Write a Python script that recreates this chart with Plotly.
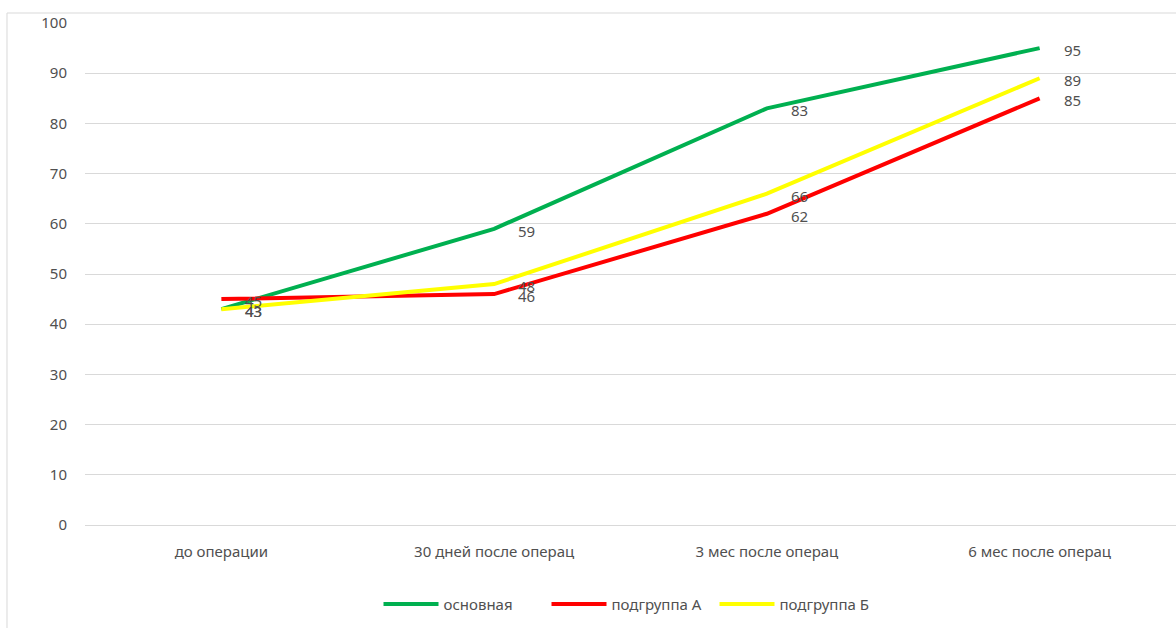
import plotly.graph_objects as go

categories = ["до операции", "30 дней после операц", "3 мес после операц", "6 мес после операц"]
series_names = ["основная", "подгруппа А", "подгруппа Б"]
osnovnaya = [43, 59, 83, 95]
podgruppa_a = [45, 46, 62, 85]
podgruppa_b = [43, 48, 66, 89]
y_ticks = [0, 10, 20, 30, 40, 50, 60, 70, 80, 90, 100]

colors = ["#00B050", "#FF0000", "#FFFF00"]
all_values = [osnovnaya, podgruppa_a, podgruppa_b]

FONT = "Noto Sans, Liberation Sans, Arial, sans-serif"
TXT = "#505050"
GRID = "#d9d9d9"
FS = 15

fig = go.Figure()
for name, vals, col in zip(series_names, all_values, colors):
    fig.add_trace(go.Scatter(
        x=list(range(len(categories))), y=vals, name=name, mode="lines",
        line=dict(color=col, width=4), hoverinfo="skip",
    ))

annotations = []
for vals in all_values:
    for i, v in enumerate(vals):
        annotations.append(dict(
            x=i, y=v, xref="x", yref="y", text=str(v), showarrow=False,
            xanchor="left", yanchor="middle", xshift=22, yshift=-2,
            font=dict(family=FONT, size=FS, color=TXT),
        ))

fig.update_layout(
    width=1176, height=628,
    margin=dict(l=85, r=0, t=23, b=103),
    paper_bgcolor="white", plot_bgcolor="white",
    font=dict(family=FONT, size=FS, color=TXT),
    showlegend=True,
    legend=dict(orientation="h", x=0.5, xanchor="center", y=-0.125, yanchor="top",
                font=dict(family=FONT, size=FS, color=TXT), itemwidth=55,
                entrywidth=98, traceorder="normal"),
    xaxis=dict(
        tickmode="array", tickvals=list(range(len(categories))), ticktext=categories,
        range=[-0.5, len(categories) - 0.5], showgrid=False, zeroline=False,
        showline=True, linecolor=GRID, linewidth=1, ticks="", ticklabelstandoff=13,
        tickfont=dict(family=FONT, size=FS, color=TXT), fixedrange=True,
    ),
    yaxis=dict(
        tickmode="array", tickvals=y_ticks, range=[0, 100], showgrid=True,
        gridcolor=GRID, gridwidth=1, zeroline=False, showline=False, ticks="",
        ticklabelstandoff=17, tickfont=dict(family=FONT, size=FS, color=TXT),
        fixedrange=True,
    ),
    annotations=annotations,
    shapes=[
        dict(type="line", xref="paper", yref="paper", x0=-0.0715, x1=-0.0715,
             y0=1.0199, y1=-0.3, line=dict(color=GRID, width=1)),
        dict(type="line", xref="paper", yref="paper", x0=-0.0715, x1=1.05,
             y0=1.0199, y1=1.0199, line=dict(color=GRID, width=1)),
    ],
)

fig.write_html("out.html")
